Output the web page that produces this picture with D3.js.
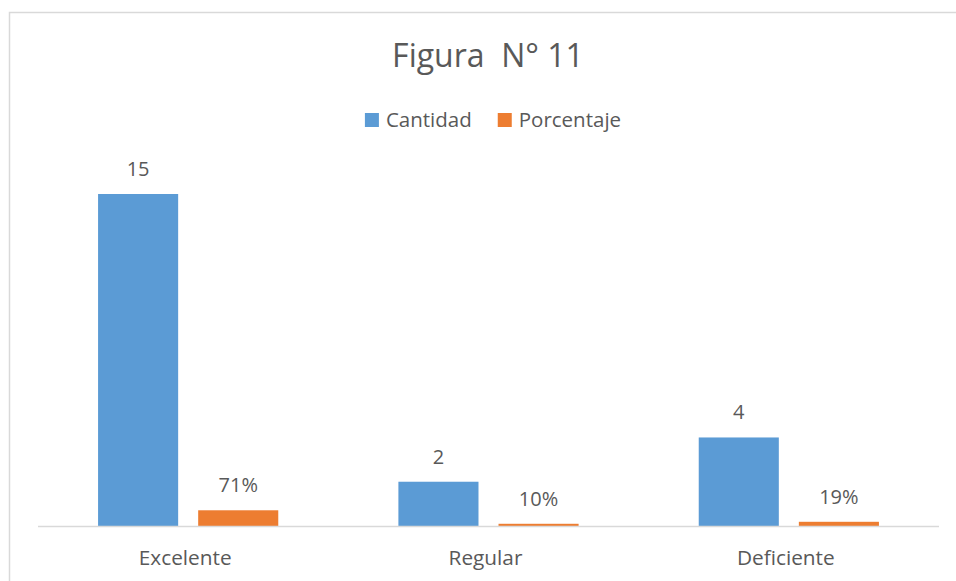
<!DOCTYPE html>
<html>
<head>
    <style>
        body { margin: 0; background: #fff; }
        text { font-family: "Open Sans", sans-serif; fill: #595959; }
        .title { font-size: 32px; text-anchor: middle; }
        .legend text { font-size: 20.5px; }
        .label { font-size: 20px; text-anchor: middle; }
        .cat { font-size: 20.8px; text-anchor: middle; }
    </style>
    <script src="https://d3js.org/d3.v7.min.js"></script>
</head>
<body>
    <svg width="956" height="581"></svg>
    <script>
        var categories = ["Excelente", "Regular", "Deficiente"];
        var series = ["Cantidad", "Porcentaje"];
        var cantidad = [15, 2, 4];
        var porcentaje = [0.71, 0.10, 0.19];
        var colors = ["#5B9BD5", "#ED7D31"];

        var svg = d3.select("svg"),
            width = +svg.attr("width"),
            height = +svg.attr("height");

        // chart frame (runs off the right and bottom edges)
        svg.append("rect")
            .attr("x", 9.5).attr("y", 12.5)
            .attr("width", width + 20).attr("height", height + 20)
            .attr("fill", "none").attr("stroke", "#d9d9d9").attr("stroke-width", 1.5);

        var x0 = d3.scaleBand().domain(categories).range([38, 939]);
        var x1 = d3.scaleBand().domain(series).range([0, x0.bandwidth()])
            .paddingInner(0.2).paddingOuter(0.6);
        var y = d3.scaleLinear().domain([0, 15]).range([526, 194]);

        var rows = categories.map(function(c, i) {
            return { cat: c, values: [
                { key: "Cantidad", value: cantidad[i], text: String(cantidad[i]) },
                { key: "Porcentaje", value: porcentaje[i], text: Math.round(porcentaje[i] * 100) + "%" }
            ]};
        });
        var color = d3.scaleOrdinal().domain(series).range(colors);

        var g = svg.append("g");
        var grp = g.selectAll(".grp").data(rows).enter().append("g")
            .attr("transform", function(d) { return "translate(" + x0(d.cat) + ",0)"; });

        grp.selectAll("rect").data(function(d) { return d.values; }).enter().append("rect")
            .attr("x", function(d) { return x1(d.key); })
            .attr("width", x1.bandwidth())
            .attr("y", function(d) { return y(d.value); })
            .attr("height", function(d) { return y(0) - y(d.value); })
            .attr("fill", function(d) { return color(d.key); });

        grp.selectAll(".label").data(function(d) { return d.values; }).enter().append("text")
            .attr("class", "label")
            .attr("x", function(d) { return x1(d.key) + x1.bandwidth() / 2; })
            .attr("y", function(d) { return y(d.value) - 18; })
            .text(function(d) { return d.text; });

        // baseline
        svg.append("line")
            .attr("x1", 38).attr("x2", 939)
            .attr("y1", y(0) + 0.5).attr("y2", y(0) + 0.5)
            .attr("stroke", "#d9d9d9").attr("stroke-width", 1.5);

        svg.selectAll(".cat").data(categories).enter().append("text")
            .attr("class", "cat")
            .attr("x", function(d) { return x0(d) + x0.bandwidth() / 2 - 3; })
            .attr("y", 565)
            .text(function(d) { return d; });

        svg.append("text").attr("class", "title")
            .attr("x", 488).attr("y", 67)
            .attr("xml:space", "preserve")
            .text("Figura  N\u00b0 11");

        // legend
        var legend = svg.append("g").attr("class", "legend");
        var offset = 0;
        series.forEach(function(s, i) {
            var item = legend.append("g").attr("transform", "translate(" + offset + ",0)");
            item.append("rect").attr("x", 0).attr("y", 113).attr("width", 14).attr("height", 14)
                .attr("fill", colors[i]);
            var t = item.append("text").attr("x", 21).attr("y", 127).text(s);
            offset += 21 + t.node().getComputedTextLength() + 26;
        });
        var lw = offset - 26;
        legend.attr("transform", "translate(" + (493 - lw / 2) + ",0)");
    </script>
</body>
</html>
